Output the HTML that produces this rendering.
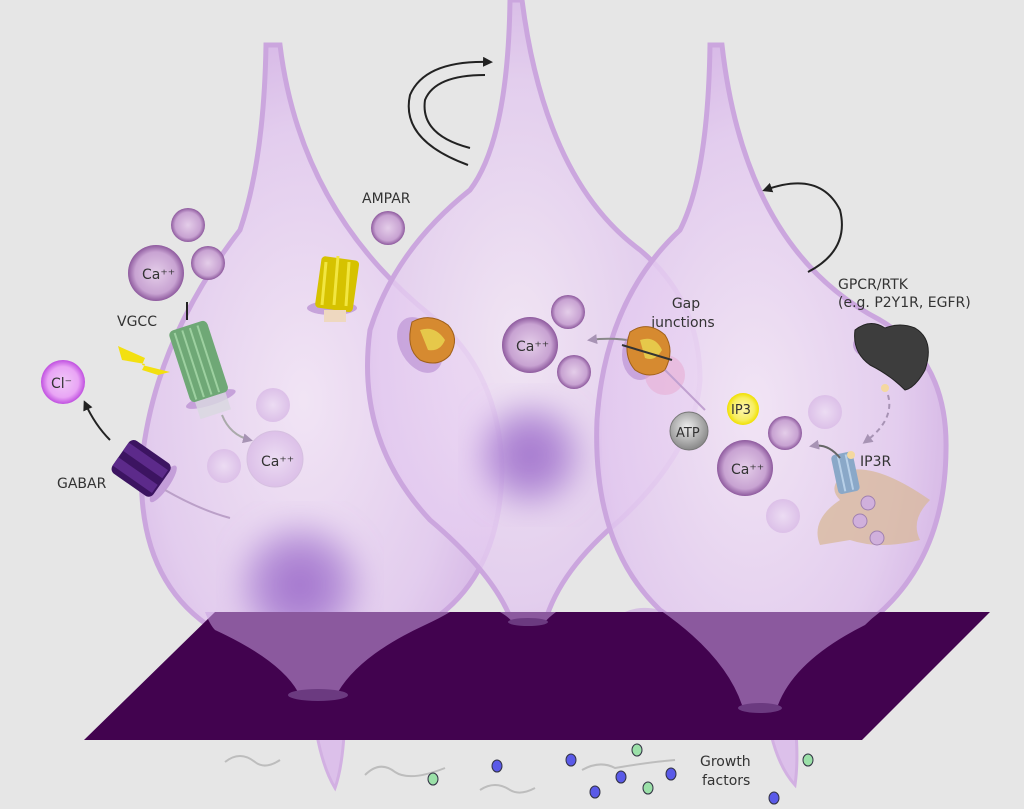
<!DOCTYPE html>
<html><head><meta charset="utf-8"><style>
html,body{margin:0;padding:0;background:#e6e6e6;}
svg{display:block;}
text{font-family:"DejaVu Sans","Liberation Sans",sans-serif;fill:#333;}
</style></head><body>
<svg width="1024" height="809" viewBox="0 0 1024 809" xmlns="http://www.w3.org/2000/svg">
<defs>
<radialGradient id="cellg" cx="0.45" cy="0.55" r="0.6">
<stop offset="0" stop-color="#f3e4f7"/><stop offset="0.7" stop-color="#e2c8ef"/><stop offset="1" stop-color="#d2ade5"/>
</radialGradient>
<radialGradient id="nuc"><stop offset="0" stop-color="#9a66c8" stop-opacity="0.95"/><stop offset="0.6" stop-color="#a57ad0" stop-opacity="0.7"/><stop offset="1" stop-color="#b58ad8" stop-opacity="0"/></radialGradient>
<radialGradient id="ball" cx="0.5" cy="0.5" r="0.5"><stop offset="0" stop-color="#e4cde9"/><stop offset="0.75" stop-color="#c8a3d2"/><stop offset="1" stop-color="#8e5a9e"/></radialGradient>
<radialGradient id="ballf" cx="0.5" cy="0.5" r="0.5"><stop offset="0" stop-color="#ecdcf3"/><stop offset="1" stop-color="#dcc0e8"/></radialGradient>
<radialGradient id="cl" cx="0.5" cy="0.5" r="0.5"><stop offset="0" stop-color="#f0c8f8"/><stop offset="0.7" stop-color="#e9a5f5"/><stop offset="1" stop-color="#c050e0"/></radialGradient>
<radialGradient id="atp" cx="0.45" cy="0.4" r="0.6"><stop offset="0" stop-color="#eee"/><stop offset="1" stop-color="#888"/></radialGradient>
<radialGradient id="ip3" cx="0.5" cy="0.5" r="0.5"><stop offset="0" stop-color="#fff6b0"/><stop offset="0.7" stop-color="#f7ee60"/><stop offset="1" stop-color="#f0e000"/></radialGradient>
<filter id="blur"><feGaussianBlur stdDeviation="14"/></filter>
<marker id="ah" markerWidth="10" markerHeight="10" refX="7" refY="5" orient="auto" markerUnits="userSpaceOnUse"><path d="M0,0 L10,5 L0,10 z" fill="#222"/></marker>
<marker id="ahg" markerWidth="10" markerHeight="10" refX="7" refY="5" orient="auto" markerUnits="userSpaceOnUse"><path d="M0,0 L10,5 L0,10 z" fill="#a793b4"/></marker>
</defs>
<rect width="1024" height="809" fill="#e6e6e6"/>

<!-- tails below plane -->
<path d="M312,700 Q318,760 335,788 Q345,760 345,700 z" fill="#dcc0ea" stroke="#d2b0e2" stroke-width="3"/>
<path d="M518,625 Q522,690 540,720 Q548,680 552,625 z" fill="#dcc0ea" stroke="#d2b0e2" stroke-width="3"/>
<path d="M765,700 Q772,760 795,785 Q800,750 792,700 z" fill="#dcc0ea" stroke="#d2b0e2" stroke-width="3"/>

<!-- left cell -->
<path d="M266,45 Q264,160 240,230 Q155,340 142,460 Q135,580 215,630 Q280,660 298,692 L338,692 Q360,655 425,625 Q500,580 502,470 Q500,370 430,315 Q300,210 280,45 z" fill="url(#cellg)" fill-opacity="0.85" stroke="#cba6de" stroke-width="5"/>
<!-- middle cell -->
<path d="M510,0 Q508,140 470,190 Q395,250 370,330 Q355,440 430,520 Q495,575 512,622 L545,622 Q560,570 620,520 Q695,450 700,380 Q700,300 640,250 Q545,180 522,0 z" fill="url(#cellg)" fill-opacity="0.8" stroke="#cba6de" stroke-width="5"/>
<!-- right cell -->
<path d="M710,45 Q708,175 680,230 Q605,300 597,420 Q592,545 660,610 Q725,655 742,705 L778,705 Q795,660 865,625 Q945,565 946,450 Q948,360 880,320 Q745,250 722,45 z" fill="url(#cellg)" fill-opacity="0.85" stroke="#cba6de" stroke-width="5"/>

<!-- nuclei -->
<circle cx="300" cy="585" r="70" fill="url(#nuc)" filter="url(#blur)"/>
<circle cx="530" cy="455" r="60" fill="url(#nuc)" filter="url(#blur)"/>

<!-- plane -->
<path d="M215,612 L990,612 L862,740 L84,740 z" fill="#42034f"/>
<!-- cell parts over plane (translucent) -->
<path d="M205,612 Q210,625 215,630 Q280,660 298,692 L338,692 Q360,655 425,625 Q440,618 450,612 z" fill="#c9a0e0" fill-opacity="0.55"/>
<path d="M625,612 Q640,605 660,610 Q725,655 742,705 L778,705 Q795,660 865,625 Q872,618 880,612 z" fill="#c9a0e0" fill-opacity="0.55"/>
<path d="M500,612 Q510,618 512,622 L545,622 Q548,618 556,612 z" fill="#c9a0e0" fill-opacity="0.55"/>
<ellipse cx="318" cy="695" rx="30" ry="6" fill="#6b3a80"/>
<ellipse cx="528" cy="622" rx="20" ry="4" fill="#6b3a80"/>
<ellipse cx="760" cy="708" rx="22" ry="5" fill="#6b3a80"/>

<!-- growth factors -->
<g fill="none" stroke="#bdbdbd" stroke-width="2">
<path d="M225,762 Q240,750 255,762 Q265,770 280,760"/>
<path d="M365,775 Q380,760 395,772 Q410,782 445,768"/>
<path d="M480,790 Q495,780 510,790 Q520,796 535,788"/>
<path d="M582,770 Q600,760 615,768 Q650,762 675,760"/>
</g>
<g stroke="#334" stroke-width="1">
<ellipse cx="497" cy="766" rx="5" ry="6" fill="#5a5ae8"/>
<ellipse cx="571" cy="760" rx="5" ry="6" fill="#5a5ae8"/>
<ellipse cx="621" cy="777" rx="5" ry="6" fill="#5a5ae8"/>
<ellipse cx="595" cy="792" rx="5" ry="6" fill="#5a5ae8"/>
<ellipse cx="671" cy="774" rx="5" ry="6" fill="#5a5ae8"/>
<ellipse cx="774" cy="798" rx="5" ry="6" fill="#5a5ae8"/>
<ellipse cx="433" cy="779" rx="5" ry="6" fill="#9be0a8"/>
<ellipse cx="637" cy="750" rx="5" ry="6" fill="#9be0a8"/>
<ellipse cx="648" cy="788" rx="5" ry="6" fill="#9be0a8"/>
<ellipse cx="808" cy="760" rx="5" ry="6" fill="#9be0a8"/>
</g>
<text x="700" y="766" font-size="14">Growth</text>
<text x="702" y="785" font-size="14">factors</text>

<!-- top arrows -->
<g fill="none" stroke="#222" stroke-width="2">
<path d="M468,165 Q400,140 410,95 Q425,60 490,62" marker-end="url(#ah)"/>
<path d="M470,148 Q420,135 425,100 Q435,75 485,75" />
<path d="M808,272 Q850,250 840,210 Q820,170 765,190" marker-end="url(#ah)"/>
</g>

<!-- left cell items -->
<circle cx="156" cy="273" r="28" fill="url(#ball)"/><text x="142" y="279" font-size="14">Ca⁺⁺</text>
<circle cx="188" cy="225" r="17" fill="url(#ball)"/>
<circle cx="208" cy="263" r="17" fill="url(#ball)"/>
<circle cx="388" cy="228" r="17" fill="url(#ball)"/>
<text x="362" y="203" font-size="14">AMPAR</text>
<text x="117" y="326" font-size="14">VGCC</text>
<line x1="187" y1="302" x2="187" y2="320" stroke="#222" stroke-width="2"/>
<path d="M118,346 L145,358 L142,365 L170,372 L158,375 L142,370 L145,364 L122,360 z" fill="#f3e010"/>
<g transform="rotate(-18 195 360)">
<ellipse cx="198" cy="402" rx="26" ry="6" fill="#b78ad0" opacity="0.7"/>
<rect x="178" y="325" width="40" height="75" rx="5" fill="#6fa876"/>
<g stroke="#9dd0a0" stroke-width="2"><line x1="184" y1="328" x2="184" y2="398"/><line x1="192" y1="328" x2="192" y2="398"/><line x1="200" y1="328" x2="200" y2="398"/><line x1="208" y1="328" x2="208" y2="398"/></g>
<rect x="182" y="400" width="32" height="18" fill="#d8d8e0" opacity="0.8"/>
</g>
<circle cx="273" cy="405" r="17" fill="url(#ballf)"/>
<circle cx="224" cy="466" r="17" fill="url(#ballf)"/>
<circle cx="275" cy="459" r="28" fill="url(#ballf)" stroke="#d6c0e0"/>
<text x="261" y="466" font-size="14">Ca⁺⁺</text>
<path d="M222,415 Q230,435 250,440" fill="none" stroke="#aaa" stroke-width="2" marker-end="url(#ahg)"/>
<circle cx="63" cy="382" r="22" fill="url(#cl)"/><text x="51" y="388" font-size="14">Cl⁻</text>
<path d="M110,440 Q95,425 85,403" fill="none" stroke="#222" stroke-width="2" marker-end="url(#ah)"/>
<text x="57" y="488" font-size="14">GABAR</text>
<g transform="rotate(-55 140 470)">
<ellipse cx="142" cy="497" rx="22" ry="6" fill="#b78ad0" opacity="0.7"/>
<rect x="122" y="445" width="40" height="50" rx="6" fill="#3c1461"/>
<rect x="128" y="445" width="10" height="48" fill="#5c2a8a"/><rect x="146" y="445" width="10" height="48" fill="#5c2a8a"/>
</g>
<path d="M165,490 Q200,510 230,518" fill="none" stroke="#bba0c8" stroke-width="2"/>
<!-- AMPAR -->
<ellipse cx="332" cy="308" rx="25" ry="7" fill="#b78ad0" opacity="0.7"/>
<rect x="318" y="258" width="38" height="52" rx="4" fill="#d6c200" transform="rotate(8 336 285)"/>
<g stroke="#f2e640" stroke-width="3"><line x1="326" y1="262" x2="322" y2="305"/><line x1="338" y1="256" x2="334" y2="305"/><line x1="349" y1="262" x2="346" y2="306"/></g>
<rect x="324" y="310" width="22" height="12" fill="#eed8c0"/>
<!-- gap junction left -->
<ellipse cx="420" cy="345" rx="20" ry="30" fill="#b58ad0" opacity="0.6" transform="rotate(-30 420 345)"/>
<path d="M412,322 Q430,312 448,325 Q460,338 450,355 Q438,368 420,360 Q405,348 412,322 z" fill="#d68a30" stroke="#a0601a"/>
<path d="M420,330 Q435,325 445,340 Q440,352 428,350 z" fill="#e6c84a"/>

<!-- middle cell items -->
<circle cx="568" cy="312" r="17" fill="url(#ball)"/>
<circle cx="574" cy="372" r="17" fill="url(#ball)"/>
<circle cx="530" cy="345" r="28" fill="url(#ball)"/><text x="516" y="351" font-size="14">Ca⁺⁺</text>
<text x="686" y="308" font-size="14" text-anchor="middle">Gap</text>
<text x="683" y="327" font-size="14" text-anchor="middle">junctions</text>
<path d="M650,345 Q620,336 590,340" fill="none" stroke="#888" stroke-width="2" marker-end="url(#ahg)"/>
<ellipse cx="640" cy="355" rx="18" ry="25" fill="#b58ad0" opacity="0.6"/>
<ellipse cx="665" cy="375" rx="20" ry="20" fill="#e8a8d0" opacity="0.5"/>
<path d="M630,332 Q648,320 665,335 Q675,350 665,370 Q650,380 635,370 Q622,355 630,332 z" fill="#d68a30" stroke="#a0601a"/>
<path d="M640,340 Q655,335 662,350 Q655,362 645,358 z" fill="#e6c84a"/>
<line x1="622" y1="345" x2="672" y2="360" stroke="#333" stroke-width="2"/>
<line x1="665" y1="370" x2="705" y2="410" stroke="#c0a0d0" stroke-width="2"/>

<!-- right cell items -->
<circle cx="689" cy="431" r="19" fill="url(#atp)" stroke="#777"/><text x="676" y="437" font-size="13">ATP</text>
<circle cx="743" cy="409" r="16" fill="url(#ip3)"/><text x="731" y="414" font-size="13">IP3</text>
<circle cx="745" cy="468" r="28" fill="url(#ball)"/><text x="731" y="474" font-size="14">Ca⁺⁺</text>
<circle cx="785" cy="433" r="17" fill="url(#ball)"/>
<circle cx="825" cy="412" r="17" fill="url(#ballf)"/>
<circle cx="783" cy="516" r="17" fill="url(#ballf)"/>
<text x="838" y="289" font-size="14">GPCR/RTK</text>
<text x="838" y="307" font-size="14">(e.g. P2Y1R, EGFR)</text>
<ellipse cx="875" cy="345" rx="22" ry="14" fill="#b58ad0" opacity="0.7"/>
<path d="M855,330 Q870,318 885,328 Q900,322 915,328 Q935,340 925,370 Q915,388 905,390 Q890,375 870,365 Q852,352 855,330 z" fill="#3d3d3d" stroke="#222"/>
<circle cx="885" cy="388" r="4" fill="#f4d8a0"/>
<path d="M888,395 Q895,420 865,442" fill="none" stroke="#a793b4" stroke-width="2" stroke-dasharray="5,4" marker-end="url(#ahg)"/>
<path d="M820,545 Q810,520 840,500 Q825,485 850,470 Q880,465 930,500 Q910,520 920,540 Q880,550 850,540 z" fill="#d8b89a" opacity="0.75"/>
<g transform="rotate(-12 850 475)">
<rect x="835" y="452" width="22" height="40" rx="4" fill="#8aa8c8"/>
<line x1="842" y1="454" x2="842" y2="490" stroke="#b8d0e8" stroke-width="2"/><line x1="850" y1="454" x2="850" y2="490" stroke="#b8d0e8" stroke-width="2"/>
</g>
<circle cx="851" cy="455" r="4" fill="#f4d8a0"/>
<text x="860" y="466" font-size="14">IP3R</text>
<path d="M840,458 Q828,443 812,446" fill="none" stroke="#666" stroke-width="2" marker-end="url(#ahg)"/>
<circle cx="868" cy="503" r="7" fill="#d0b0dc" stroke="#a080b0"/>
<circle cx="860" cy="521" r="7" fill="#d0b0dc" stroke="#a080b0"/>
<circle cx="877" cy="538" r="7" fill="#d0b0dc" stroke="#a080b0"/>
</svg>
</body></html>
